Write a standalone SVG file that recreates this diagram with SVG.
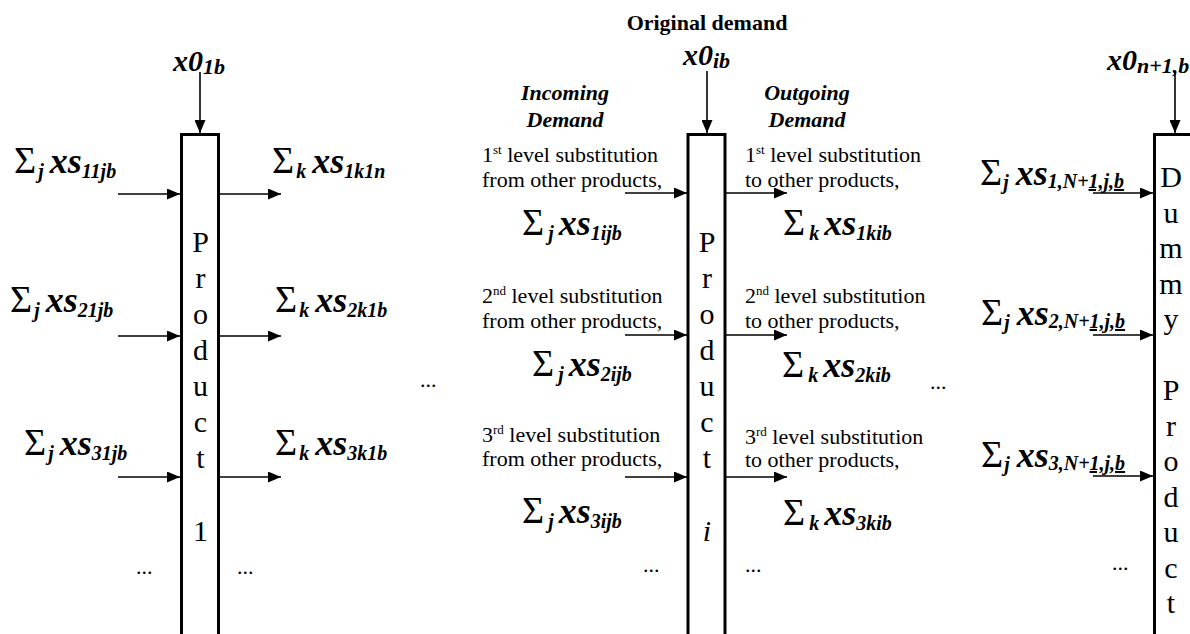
<svg xmlns="http://www.w3.org/2000/svg" width="1190" height="634" viewBox="0 0 1190 634">
<style>
text{font-family:"Liberation Serif",serif;fill:#000}
.box{fill:#fff;stroke:#000;stroke-width:3}
.lt{font-size:30px;text-anchor:middle}
.ar{stroke:#000;stroke-width:1.6;fill:none;marker-end:url(#ah)}
.lab{font-size:20px;font-style:italic;font-weight:bold}
.sg{font-size:38px;font-style:normal;font-weight:normal}
.xs{font-size:36px}
.x0{font-size:30px}
.sb0{font-size:22px}
.tx{font-size:22px}
.sup{font-size:13px}
.hd{font-size:22px;font-weight:bold;font-style:italic;text-anchor:middle}
.dots{font-size:22px}
</style>
<defs>
<marker id="ah" markerWidth="13" markerHeight="11" refX="13" refY="5.5" orient="auto" markerUnits="userSpaceOnUse"><path d="M0,0 L13,5.5 L0,11 Z" fill="#000"/></marker>
</defs>

<g id="product-1">
<rect class="box" x="181.5" y="134.5" width="37" height="520"/>
<text class="lt" x="200.5" y="252"><tspan x="200.5">P</tspan><tspan x="200.5" dy="36">r</tspan><tspan x="200.5" dy="36">o</tspan><tspan x="200.5" dy="36">d</tspan><tspan x="200.5" dy="36">u</tspan><tspan x="200.5" dy="36">c</tspan><tspan x="200.5" dy="36">t</tspan><tspan x="200.5" dy="73">1</tspan></text>
</g>

<g id="product-i">
<rect class="box" x="688" y="134.5" width="37" height="520"/>
<text class="lt" x="707" y="252"><tspan x="707">P</tspan><tspan x="707" dy="36">r</tspan><tspan x="707" dy="36">o</tspan><tspan x="707" dy="36">d</tspan><tspan x="707" dy="36">u</tspan><tspan x="707" dy="36">c</tspan><tspan x="707" dy="36">t</tspan><tspan x="707" dy="73" font-style="italic">i</tspan></text>
</g>

<g id="dummy-product">
<rect class="box" x="1154.5" y="134.5" width="37" height="520"/>
<text class="lt" x="1171" y="187"><tspan x="1171">D</tspan><tspan x="1171" dy="35.5">u</tspan><tspan x="1171" dy="35.5">m</tspan><tspan x="1171" dy="35.5">m</tspan><tspan x="1171" dy="35.5">y</tspan><tspan x="1171" dy="71">P</tspan><tspan x="1171" dy="35.5">r</tspan><tspan x="1171" dy="35.5">o</tspan><tspan x="1171" dy="35.5">d</tspan><tspan x="1171" dy="35.5">u</tspan><tspan x="1171" dy="35.5">c</tspan><tspan x="1171" dy="35.5">t</tspan></text>
</g>

<g id="connectors">
<line class="ar" x1="200" y1="72" x2="200" y2="133"/>
<line class="ar" x1="118" y1="194" x2="180" y2="194"/>
<line class="ar" x1="118" y1="336" x2="180" y2="336"/>
<line class="ar" x1="118" y1="477" x2="180" y2="477"/>
<line class="ar" x1="220" y1="194" x2="281" y2="194"/>
<line class="ar" x1="220" y1="336" x2="281" y2="336"/>
<line class="ar" x1="220" y1="477" x2="281" y2="477"/>
<line class="ar" x1="707" y1="71" x2="707" y2="133"/>
<line class="ar" x1="625" y1="193" x2="687" y2="193"/>
<line class="ar" x1="625" y1="335" x2="687" y2="335"/>
<line class="ar" x1="625" y1="477" x2="687" y2="477"/>
<line class="ar" x1="726" y1="193" x2="787" y2="193"/>
<line class="ar" x1="726" y1="335" x2="787" y2="335"/>
<line class="ar" x1="726" y1="477" x2="787" y2="477"/>
<line class="ar" x1="1175" y1="72" x2="1175" y2="133"/>
<line class="ar" x1="1093" y1="193" x2="1153" y2="193"/>
<line class="ar" x1="1093" y1="335" x2="1153" y2="335"/>
<line class="ar" x1="1093" y1="476" x2="1153" y2="476"/>
</g>

<g id="labels">
<text x="707" y="30" font-size="22" font-weight="bold" text-anchor="middle">Original demand</text>
<text class="lab" x="173" y="71"><tspan class="x0">x0</tspan><tspan class="sb0" dy="3">1b</tspan></text>
<text class="lab" x="683" y="65"><tspan class="x0">x0</tspan><tspan class="sb0" dy="3">ib</tspan></text>
<text class="lab" x="1107" y="70"><tspan class="x0">x0</tspan><tspan class="sb0" dy="3">n+1,b</tspan></text>

<text class="hd" x="565" y="100">Incoming</text>
<text class="hd" x="565" y="127">Demand</text>
<text class="hd" x="807" y="100">Outgoing</text>
<text class="hd" x="807" y="127">Demand</text>

<text class="lab" x="14" y="173"><tspan class="sg">Σ</tspan><tspan dx="2" dy="5">j</tspan><tspan class="xs" dx="6" dy="-5">xs</tspan><tspan dy="5">11jb</tspan></text>
<text class="lab" x="272" y="173"><tspan class="sg">Σ</tspan><tspan dx="2" dy="5">k</tspan><tspan class="xs" dx="6" dy="-5">xs</tspan><tspan dy="5">1k1n</tspan></text>
<text class="lab" x="10" y="312"><tspan class="sg">Σ</tspan><tspan dx="2" dy="5">j</tspan><tspan class="xs" dx="6" dy="-5">xs</tspan><tspan dy="5">21jb</tspan></text>
<text class="lab" x="275" y="312"><tspan class="sg">Σ</tspan><tspan dx="2" dy="5">k</tspan><tspan class="xs" dx="6" dy="-5">xs</tspan><tspan dy="5">2k1b</tspan></text>
<text class="lab" x="24" y="455"><tspan class="sg">Σ</tspan><tspan dx="2" dy="5">j</tspan><tspan class="xs" dx="6" dy="-5">xs</tspan><tspan dy="5">31jb</tspan></text>
<text class="lab" x="275" y="455"><tspan class="sg">Σ</tspan><tspan dx="2" dy="5">k</tspan><tspan class="xs" dx="6" dy="-5">xs</tspan><tspan dy="5">3k1b</tspan></text>
<text class="dots" x="136" y="574">...</text>
<text class="dots" x="237" y="574">...</text>

<text class="tx" x="482" y="162">1<tspan class="sup" dy="-8">st</tspan><tspan dy="8"> level substitution</tspan></text>
<text class="tx" x="482" y="187">from other products,</text>
<text class="tx" x="745" y="162">1<tspan class="sup" dy="-8">st</tspan><tspan dy="8"> level substitution</tspan></text>
<text class="tx" x="745" y="187">to other products,</text>
<text class="lab" x="522" y="235"><tspan class="sg">Σ</tspan><tspan dx="4" dy="5">j</tspan><tspan class="xs" dx="5" dy="-5">xs</tspan><tspan dy="5">1ijb</tspan></text>
<text class="lab" x="783" y="235"><tspan class="sg">Σ</tspan><tspan dx="4" dy="5">k</tspan><tspan class="xs" dx="5" dy="-5">xs</tspan><tspan dy="5">1kib</tspan></text>

<text class="tx" x="482" y="303">2<tspan class="sup" dy="-8">nd</tspan><tspan dy="8"> level substitution</tspan></text>
<text class="tx" x="482" y="328">from other products,</text>
<text class="tx" x="745" y="303">2<tspan class="sup" dy="-8">nd</tspan><tspan dy="8"> level substitution</tspan></text>
<text class="tx" x="745" y="328">to other products,</text>
<text class="lab" x="532" y="376"><tspan class="sg">Σ</tspan><tspan dx="4" dy="5">j</tspan><tspan class="xs" dx="5" dy="-5">xs</tspan><tspan dy="5">2ijb</tspan></text>
<text class="lab" x="782" y="377"><tspan class="sg">Σ</tspan><tspan dx="4" dy="5">k</tspan><tspan class="xs" dx="5" dy="-5">xs</tspan><tspan dy="5">2kib</tspan></text>

<text class="tx" x="482" y="442">3<tspan class="sup" dy="-8">rd</tspan><tspan dy="8"> level substitution</tspan></text>
<text class="tx" x="482" y="466">from other products,</text>
<text class="tx" x="745" y="444">3<tspan class="sup" dy="-8">rd</tspan><tspan dy="8"> level substitution</tspan></text>
<text class="tx" x="745" y="467">to other products,</text>
<text class="lab" x="522" y="523"><tspan class="sg">Σ</tspan><tspan dx="4" dy="5">j</tspan><tspan class="xs" dx="5" dy="-5">xs</tspan><tspan dy="5">3ijb</tspan></text>
<text class="lab" x="783" y="525"><tspan class="sg">Σ</tspan><tspan dx="4" dy="5">k</tspan><tspan class="xs" dx="5" dy="-5">xs</tspan><tspan dy="5">3kib</tspan></text>
<text class="dots" x="643" y="572">...</text>
<text class="dots" x="745" y="572">...</text>
<text class="dots" x="420" y="387">...</text>
<text class="dots" x="930" y="389">...</text>

<text class="lab" x="980" y="185"><tspan class="sg">Σ</tspan><tspan dx="1" dy="4">j</tspan><tspan class="xs" dx="7" dy="-4">xs</tspan><tspan dy="3">1,N+<tspan text-decoration="underline">1,j,b</tspan></tspan></text>
<text class="lab" x="981" y="325"><tspan class="sg">Σ</tspan><tspan dx="1" dy="4">j</tspan><tspan class="xs" dx="7" dy="-4">xs</tspan><tspan dy="3">2,N+<tspan text-decoration="underline">1,j,b</tspan></tspan></text>
<text class="lab" x="981" y="467"><tspan class="sg">Σ</tspan><tspan dx="1" dy="4">j</tspan><tspan class="xs" dx="7" dy="-4">xs</tspan><tspan dy="3">3,N+<tspan text-decoration="underline">1,j,b</tspan></tspan></text>
<text class="dots" x="1112" y="570">...</text>
</g>
</svg>
